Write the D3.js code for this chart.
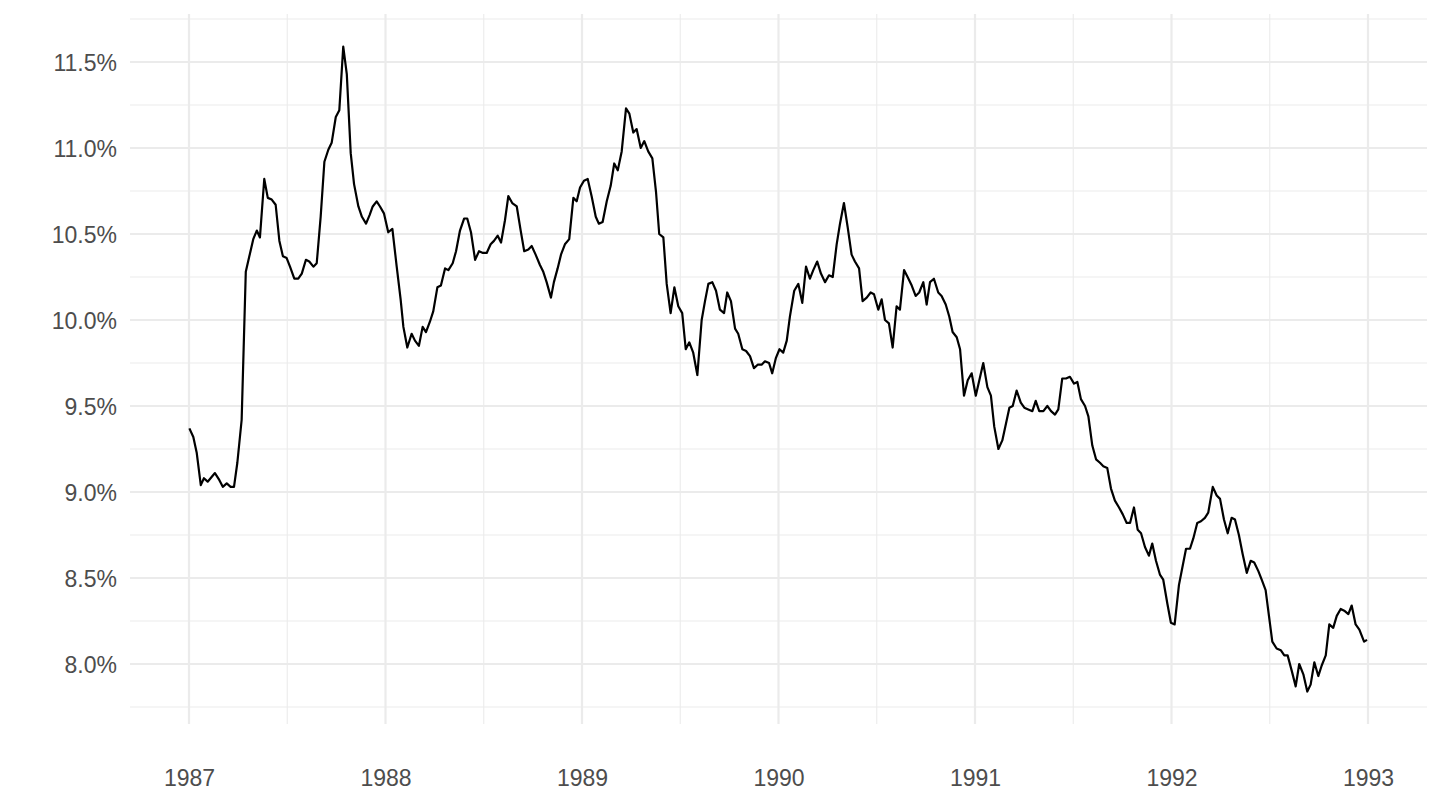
<!DOCTYPE html>
<html>
<head>
<meta charset="utf-8">
<script src="https://cdn.jsdelivr.net/npm/d3@7"></script>
<style>
  html, body { margin: 0; padding: 0; background: #ffffff; }
  svg { display: block; }
  .tick-label { font-family: "Liberation Sans", Arial, Helvetica, sans-serif; fill: #4D4D4D; }
</style>
</head>
<body>
<script>
// ---- Data ----
const years = [
1987.002,1987.022,1987.039,1987.060,1987.076,1987.095,1987.132,1987.154,1987.172,1987.192,
1987.212,1987.229,1987.246,1987.268,1987.289,1987.307,1987.327,1987.345,1987.361,1987.383,
1987.401,1987.421,1987.441,1987.460,1987.478,1987.497,1987.514,1987.536,1987.556,1987.574,
1987.595,1987.612,1987.633,1987.650,1987.670,1987.689,1987.709,1987.726,1987.747,1987.765,
1987.785,1987.803,1987.823,1987.840,1987.862,1987.880,1987.901,1987.919,1987.935,1987.955,
1987.972,1987.992,1988.014,1988.035,1988.057,1988.077,1988.091,1988.111,1988.133,1988.150,
1988.170,1988.189,1988.206,1988.226,1988.243,1988.264,1988.282,1988.303,1988.320,1988.342,
1988.359,1988.379,1988.400,1988.416,1988.435,1988.456,1988.476,1988.496,1988.515,1988.535,
1988.552,1988.571,1988.588,1988.608,1988.625,1988.645,1988.668,1988.688,1988.706,1988.727,
1988.744,1988.764,1988.786,1988.803,1988.820,1988.842,1988.857,1988.876,1988.893,1988.913,
1988.935,1988.956,1988.973,1988.990,1989.010,1989.029,1989.049,1989.070,1989.086,1989.105,
1989.126,1989.146,1989.164,1989.182,1989.202,1989.224,1989.241,1989.261,1989.278,1989.299,
1989.317,1989.337,1989.358,1989.377,1989.393,1989.414,1989.431,1989.451,1989.470,1989.490,
1989.510,1989.528,1989.546,1989.566,1989.587,1989.609,1989.626,1989.643,1989.663,1989.682,
1989.702,1989.723,1989.739,1989.758,1989.779,1989.795,1989.816,1989.835,1989.855,1989.875,
1989.894,1989.914,1989.931,1989.952,1989.968,1989.987,1990.005,1990.024,1990.042,1990.058,
1990.080,1990.101,1990.121,1990.140,1990.160,1990.177,1990.197,1990.216,1990.237,1990.257,
1990.276,1990.296,1990.313,1990.333,1990.352,1990.372,1990.389,1990.410,1990.428,1990.449,
1990.469,1990.486,1990.508,1990.525,1990.542,1990.562,1990.581,1990.601,1990.618,1990.639,
1990.657,1990.678,1990.698,1990.716,1990.737,1990.754,1990.771,1990.791,1990.813,1990.830,
1990.851,1990.869,1990.886,1990.907,1990.924,1990.944,1990.963,1990.983,1991.004,1991.020,
1991.042,1991.063,1991.081,1991.098,1991.119,1991.139,1991.158,1991.175,1991.192,1991.212,
1991.233,1991.251,1991.271,1991.292,1991.309,1991.327,1991.348,1991.368,1991.387,1991.407,
1991.424,1991.444,1991.463,1991.483,1991.504,1991.521,1991.539,1991.560,1991.577,1991.597,
1991.616,1991.636,1991.653,1991.673,1991.692,1991.712,1991.733,1991.752,1991.772,1991.789,
1991.809,1991.828,1991.845,1991.865,1991.885,1991.902,1991.921,1991.941,1991.958,1991.979,
1991.997,1992.016,1992.038,1992.055,1992.074,1992.094,1992.111,1992.131,1992.150,1992.170,
1992.187,1992.210,1992.230,1992.247,1992.267,1992.286,1992.306,1992.323,1992.343,1992.362,
1992.383,1992.403,1992.421,1992.442,1992.459,1992.479,1992.496,1992.513,1992.535,1992.556,
1992.574,1992.591,1992.612,1992.632,1992.650,1992.671,1992.691,1992.708,1992.727,1992.747,
1992.764,1992.785,1992.803,1992.823,1992.841,1992.861,1992.879,1992.900,1992.917,1992.937,
1992.956,1992.980,1992.995
];
const rates = [
9.37,9.32,9.23,9.04,9.08,9.06,9.11,9.07,9.03,9.05,
9.03,9.03,9.17,9.42,10.28,10.37,10.47,10.52,10.48,10.82,
10.71,10.70,10.67,10.46,10.37,10.36,10.31,10.24,10.24,10.27,
10.35,10.34,10.31,10.33,10.60,10.92,10.99,11.03,11.18,11.22,
11.59,11.43,10.97,10.79,10.66,10.60,10.56,10.61,10.66,10.69,
10.66,10.62,10.51,10.53,10.31,10.12,9.96,9.84,9.92,9.88,
9.85,9.96,9.93,9.99,10.05,10.19,10.20,10.30,10.29,10.33,
10.40,10.52,10.59,10.59,10.51,10.35,10.40,10.39,10.39,10.44,
10.46,10.49,10.45,10.58,10.72,10.68,10.66,10.52,10.40,10.41,
10.43,10.38,10.32,10.28,10.22,10.13,10.22,10.30,10.38,10.44,
10.47,10.71,10.69,10.77,10.81,10.82,10.72,10.60,10.56,10.57,
10.69,10.78,10.91,10.87,10.98,11.23,11.20,11.09,11.11,11.00,
11.04,10.98,10.94,10.74,10.50,10.48,10.21,10.04,10.19,10.08,
10.04,9.83,9.87,9.81,9.68,10.00,10.11,10.21,10.22,10.17,
10.06,10.04,10.16,10.11,9.95,9.92,9.83,9.82,9.79,9.72,
9.74,9.74,9.76,9.75,9.69,9.78,9.83,9.81,9.88,10.02,
10.17,10.21,10.10,10.31,10.24,10.29,10.34,10.27,10.22,10.26,
10.25,10.44,10.56,10.68,10.54,10.38,10.34,10.30,10.11,10.13,
10.16,10.15,10.06,10.12,10.00,9.98,9.84,10.08,10.06,10.29,
10.25,10.20,10.14,10.16,10.22,10.09,10.22,10.24,10.16,10.14,
10.09,10.02,9.93,9.90,9.83,9.56,9.65,9.69,9.56,9.64,
9.75,9.61,9.56,9.38,9.25,9.30,9.40,9.49,9.50,9.59,
9.52,9.49,9.48,9.47,9.53,9.47,9.47,9.50,9.47,9.45,
9.48,9.66,9.66,9.67,9.63,9.64,9.54,9.50,9.44,9.27,
9.19,9.17,9.15,9.14,9.02,8.95,8.91,8.87,8.82,8.82,
8.91,8.78,8.76,8.68,8.63,8.70,8.60,8.52,8.49,8.35,
8.24,8.23,8.46,8.56,8.67,8.67,8.73,8.82,8.83,8.85,
8.88,9.03,8.98,8.96,8.84,8.76,8.85,8.84,8.75,8.64,
8.53,8.60,8.59,8.54,8.49,8.43,8.28,8.13,8.09,8.08,
8.05,8.05,7.96,7.87,8.00,7.94,7.84,7.88,8.01,7.93,
7.99,8.05,8.23,8.21,8.28,8.32,8.31,8.29,8.34,8.23,
8.20,8.13,8.14
];
const xTicks = [1987, 1988, 1989, 1990, 1991, 1992, 1993];
const xMinorTicks = [1987.5, 1988.5, 1989.5, 1990.5, 1991.5, 1992.5];
const yTicks = [8.0, 8.5, 9.0, 9.5, 10.0, 10.5, 11.0, 11.5];
const yMinorTicks = [7.75, 8.25, 8.75, 9.25, 9.75, 10.25, 10.75, 11.25, 11.75];

// ---- Layout ----
const W = 1440, H = 810;
const panel = { left: 130, right: 1427, top: 14, bottom: 724 };

const data = years.map((y, i) => ({ t: y, v: rates[i] }));

const x = d3.scaleLinear().domain([1987, 1993]).range([189, 1368]);
const y = d3.scaleLinear().domain([8.0, 11.5]).range([664, 62]);

const svg = d3.select("body").append("svg").attr("width", W).attr("height", H);

const grid = svg.append("g");
// minor grid
grid.selectAll(".ymin").data(yMinorTicks).enter().append("line")
  .attr("x1", panel.left).attr("x2", panel.right)
  .attr("y1", d => y(d)).attr("y2", d => y(d))
  .attr("stroke", "#EBEBEB").attr("stroke-width", 1.1);
grid.selectAll(".xmin").data(xMinorTicks).enter().append("line")
  .attr("y1", panel.top).attr("y2", panel.bottom)
  .attr("x1", d => x(d)).attr("x2", d => x(d))
  .attr("stroke", "#EBEBEB").attr("stroke-width", 1.1);
// major grid
grid.selectAll(".ymaj").data(yTicks).enter().append("line")
  .attr("x1", panel.left).attr("x2", panel.right)
  .attr("y1", d => y(d)).attr("y2", d => y(d))
  .attr("stroke", "#EBEBEB").attr("stroke-width", 2.2);
grid.selectAll(".xmaj").data(xTicks).enter().append("line")
  .attr("y1", panel.top).attr("y2", panel.bottom)
  .attr("x1", d => x(d)).attr("x2", d => x(d))
  .attr("stroke", "#EBEBEB").attr("stroke-width", 2.2);

// line
const line = d3.line().x(d => x(d.t)).y(d => y(d.v));
svg.append("path").datum(data)
  .attr("d", line)
  .attr("fill", "none")
  .attr("stroke", "#000000")
  .attr("stroke-width", 2.2)
  .attr("stroke-linejoin", "round");

// axes labels (no axis lines/ticks in theme_minimal)
const fmtY = d => d3.format(".1f")(d) + "%";
const xAxis = d3.axisBottom(x).tickValues(xTicks).tickFormat(d3.format("d")).tickSize(0).tickPadding(0);
const yAxis = d3.axisLeft(y).tickValues(yTicks).tickFormat(fmtY).tickSize(0).tickPadding(0);

const gx = svg.append("g").attr("transform", `translate(0, ${panel.bottom + 54})`).call(xAxis);
const gy = svg.append("g").attr("transform", `translate(117, 0)`).call(yAxis);
[gx, gy].forEach(g => {
  g.select(".domain").remove();
  g.selectAll("text")
    .attr("class", "tick-label")
    .style("font-size", "23px")
    .style("font-family", '"Liberation Sans", Arial, Helvetica, sans-serif')
    .attr("fill", "#4D4D4D");
});
gx.selectAll("text").attr("dy", "0").attr("y", 0).attr("dominant-baseline", "central");
gy.selectAll("text").attr("dy", "0.35em").attr("x", 0);
</script>
</body>
</html>
